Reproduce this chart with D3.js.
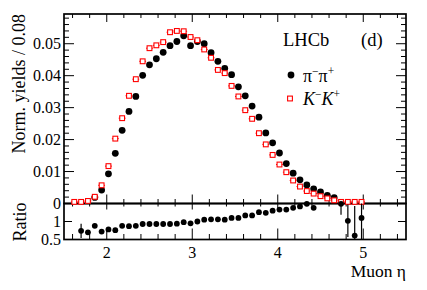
<!DOCTYPE html>
<html><head><meta charset="utf-8">
<script src="https://cdn.jsdelivr.net/npm/d3@7"></script>
<style>
body{margin:0;background:#fff}
svg{display:block}
</style>
</head><body>
<svg id="c" width="427" height="290" font-family="'Liberation Serif', 'DejaVu Serif', 'Times New Roman', Times, serif"></svg>
<script>
// ---- data (bin centres of muon eta, bin width 0.08) ----
const eta = [1.62,1.70,1.78,1.86,1.94,2.02,2.10,2.18,2.26,2.34,2.42,2.50,2.58,2.66,2.74,2.82,2.90,2.98,3.06,3.14,
             3.22,3.30,3.38,3.46,3.54,3.62,3.70,3.78,3.86,3.94,4.02,4.10,4.18,4.26,4.34,4.42,4.50,4.58,4.66,4.74,
             4.82,4.90,4.98];
const pipi = [null,null,null,0.0019,0.0042,0.0093,0.0157,0.0229,0.0288,0.0335,0.0401,0.0434,0.0453,0.0473,0.0494,0.0507,0.0525,0.0494,0.0507,0.0500,
              0.0472,0.0445,0.0423,0.0403,0.0365,0.0337,0.0305,0.0270,0.0221,0.0190,0.0158,0.0125,0.0095,0.0074,0.0058,0.0046,0.0036,0.0025,0.0018,null,
              null,null,null];
const kk = [0.0005,0.0005,0.0008,0.0021,0.0057,0.0117,0.0203,0.0267,0.0337,0.0389,0.0445,0.0486,0.0495,0.0505,0.0536,0.0540,0.0539,0.0521,0.0511,0.0482,
            0.0456,0.0418,0.0408,0.0368,0.0335,0.0292,0.0265,0.0220,0.0185,0.0152,0.0122,0.0098,0.0072,0.0053,0.0039,0.0031,0.0023,0.0016,0.0010,0.0005,
            0.0005,0.0005,0.0005];
const ratio = [null,0.74,0.70,0.88,0.72,0.78,0.76,0.88,0.87,0.88,0.93,0.93,0.93,0.93,0.93,0.94,0.98,0.95,1.00,1.05,
               1.06,1.06,1.05,1.10,1.10,1.17,1.17,1.26,1.24,1.30,1.33,1.33,1.38,1.42,1.49,1.38,null,null,null,1.49,
               1.02,0.61,1.10];
const ratioErr = [0,0.20,0.06,0.04,0.04,0.03,0.02,0.02,0.02,0.02,0.02,0.02,0.02,0.02,0.02,0.02,0.02,0.02,0.02,0.02,
                  0.02,0.02,0.02,0.02,0.02,0.02,0.02,0.02,0.02,0.02,0.03,0.03,0.03,0.04,0.05,0.06,0,0,0,0.30,
                  0.45,0.82,0.70];
const binHalf = 0.04;
const xMajor = [2,3,4,5];
const yTopMajor = [0,0.01,0.02,0.03,0.04,0.05];
const yTopLabels = ["0","0.01","0.02","0.03","0.04","0.05"];
const yRatioMajor = [0.5,1];
const yRatioLabels = ["0.5","1"];

// ---- layout ----
const svg = d3.select("#c");
const L = 64, R = 406, T = 14, M = 203.5, B = 239.5;
const x = d3.scaleLinear().domain([1.5,5.5]).range([L,R]);
const yT = d3.scaleLinear().domain([0,0.0593]).range([M,T]);
const yR = d3.scaleLinear().domain([0.5,1.5]).range([B,M]);

const g = svg.append("g");
function tick(x1,y1,x2,y2,w){g.append("line").attr("x1",x1).attr("y1",y1).attr("x2",x2).attr("y2",y2).attr("stroke","#000").attr("stroke-width",w||1);}

// x ticks
const xMinor = d3.range(16,55,2).map(v=>v/10).filter(v=>!xMajor.includes(v));
xMajor.forEach(v=>{const p=x(v);
  tick(p,T,p,T+8); tick(p,M,p,M-9); tick(p,M,p,M+6); tick(p,B,p,B-11);});
xMinor.forEach(v=>{const p=x(v);
  tick(p,T,p,T+4); tick(p,M,p,M-4.5); tick(p,M,p,M+3); tick(p,B,p,B-5.5);});
// y ticks top
d3.range(0,0.0591,0.002).forEach((v,i)=>{const p=yT(v); const len=(i%5===0)?10:5;
  tick(L,p,L+len,p); tick(R,p,R-len,p);});
// y ticks ratio
yRatioMajor.concat([1.5]).forEach(v=>{const p=yR(v); tick(L,p,L+8,p); tick(R,p,R-8,p);});

// frames
g.append("rect").attr("x",L).attr("y",T).attr("width",R-L).attr("height",M-T).attr("fill","none").attr("stroke","#000").attr("stroke-width",1.7);
g.append("rect").attr("x",L).attr("y",M).attr("width",R-L).attr("height",B-M).attr("fill","none").attr("stroke","#000").attr("stroke-width",1.7);

// tick labels
yTopMajor.forEach((v,i)=>g.append("text").attr("x",L-3).attr("y",yT(v)).attr("dy","0.35em").attr("text-anchor","end").attr("font-size",16).text(yTopLabels[i]));
yRatioMajor.forEach((v,i)=>g.append("text").attr("x",L-3).attr("y",yR(v)).attr("dy","0.35em").attr("text-anchor","end").attr("font-size",16).text(yRatioLabels[i]));
xMajor.forEach(v=>g.append("text").attr("x",x(v)).attr("y",257.5).attr("text-anchor","middle").attr("font-size",16).text(v));

// titles
g.append("text").attr("transform",`translate(25,${T}) rotate(-90)`).attr("text-anchor","end").attr("font-size",18).text("Norm. yields / 0.08");
g.append("text").attr("transform",`translate(26,222) rotate(-90)`).attr("text-anchor","middle").attr("font-size",18).text("Ratio");
g.append("text").attr("x",R).attr("y",277).attr("text-anchor","end").attr("font-size",17.5).text("Muon η");

// LHCb label
g.append("text").attr("x",283).attr("y",46).attr("font-size",18.5).text("LHCb");
g.append("text").attr("x",361).attr("y",46).attr("font-size",18.5).text("(d)");

// data: top panel
const ptsPi = eta.map((e,i)=>({e, v:pipi[i]})).filter(d=>d.v!==null);
const ptsK = eta.map((e,i)=>({e, v:kk[i]})).filter(d=>d.v!==null);
g.selectAll(".pi").data(ptsPi).join("circle").attr("cx",d=>x(d.e)).attr("cy",d=>yT(d.v)).attr("r",3.4).attr("fill","#000");
g.selectAll(".kbar").data(ptsK).join("line")
  .attr("x1",d=>x(d.e-binHalf)).attr("x2",d=>x(d.e+binHalf)).attr("y1",d=>yT(d.v)).attr("y2",d=>yT(d.v))
  .attr("stroke","#f00").attr("stroke-width",1);
g.selectAll(".k").data(ptsK).join("rect").attr("x",d=>x(d.e)-2.4).attr("y",d=>yT(d.v)-2.4).attr("width",4.8).attr("height",4.8)
  .attr("fill","#fff").attr("stroke","#f00").attr("stroke-width",1.1);

// ratio panel
const ptsR = eta.map((e,i)=>({e, v:ratio[i], err:ratioErr[i]})).filter(d=>d.v!==null);
const cl = v=>Math.max(0.5,Math.min(1.5,v));
g.selectAll(".rerr").data(ptsR).join("line")
  .attr("x1",d=>x(d.e)).attr("x2",d=>x(d.e)).attr("y1",d=>yR(cl(d.v-d.err))).attr("y2",d=>yR(cl(d.v+d.err)))
  .attr("stroke","#000").attr("stroke-width",1.2);
g.selectAll(".r").data(ptsR).join("circle").attr("cx",d=>x(d.e)).attr("cy",d=>yR(d.v)).attr("r",2.9).attr("fill","#000");

// legend
g.append("circle").attr("cx",291).attr("cy",75).attr("r",3.4).attr("fill","#000");
const t1 = g.append("text").attr("x",303).attr("y",82).attr("font-size",18);
t1.append("tspan").text("π");
t1.append("tspan").attr("font-size",11.5).attr("dy",-7).text("−");
t1.append("tspan").attr("dy",7).text("π");
t1.append("tspan").attr("font-size",11.5).attr("dy",-7).text("+");
g.append("rect").attr("x",290-2.4).attr("y",98.5-2.4).attr("width",4.8).attr("height",4.8).attr("fill","#fff").attr("stroke","#f00").attr("stroke-width",1.1);
const t2 = g.append("text").attr("x",303).attr("y",105).attr("font-size",18);
t2.append("tspan").attr("font-style","italic").text("K");
t2.append("tspan").attr("font-size",11.5).attr("dy",-7).text("−");
t2.append("tspan").attr("dy",7).attr("font-style","italic").text("K");
t2.append("tspan").attr("font-size",11.5).attr("dy",-7).text("+");
</script>
</body></html>
